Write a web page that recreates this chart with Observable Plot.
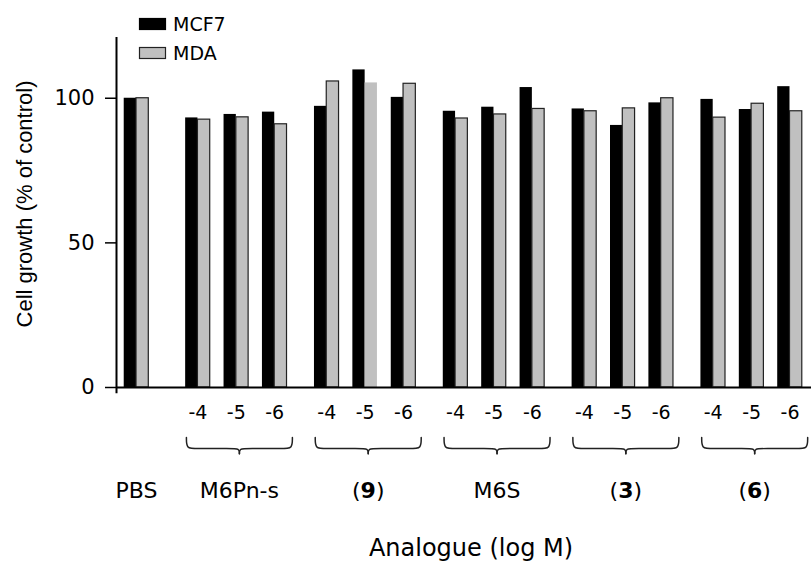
<!DOCTYPE html>
<html><head><meta charset="utf-8">
<script src="https://cdn.jsdelivr.net/npm/d3@7"></script>
<script src="https://cdn.jsdelivr.net/npm/@observablehq/plot@0.6"></script>
<style>body{margin:0;background:#fff}#chart{position:relative;width:811px;height:561px}</style>
</head><body><div id="chart"></div>
<script>
// ---- data ----
const groups = ["PBS", "M6Pn-s", "(9)", "M6S", "(3)", "(6)"];
const concs = ["-4", "-5", "-6"];
const series = ["MCF7", "MDA"];
const mcf7 = [[100], [93.2, 94.4, 95.2], [97.2, 109.8, 100.3], [95.5, 96.9, 103.7], [96.3, 90.6, 98.4], [99.6, 96.1, 104.0]];
const mda  = [[100], [92.6, 93.4, 91.0], [105.8, 105.3, 105.0], [93.0, 94.4, 96.3], [95.5, 96.5, 100.0], [93.3, 98.1, 95.5]];
const yTicks = [0, 50, 100];
const xLabel = "Analogue (log M)";
const yLabel = "Cell growth (% of control)";

// ---- layout (slot units) ----
const firstGroupOffset = 1.6, groupStep = 3.355, barW = 0.32;
const slotPos = (gi, k) => gi === 0 ? 0 : firstGroupOffset + (gi - 1) * groupStep + k;
const xDomain = [-0.521, 17.58];
const yDomain = [0, 121];

const rows = [];
groups.forEach((g, gi) => {
  mcf7[gi].forEach((v, k) => {
    rows.push({group: g, gi, k, conc: gi === 0 ? null : concs[k], pos: slotPos(gi, k), mcf7: v, mda: mda[gi][k]});
  });
});

const groupRows = groups.map((g, gi) => {
  if (gi === 0) return {group: g, center: 0};
  const L = slotPos(gi, 0) - 0.3, R = slotPos(gi, 2) + 0.46;
  return {group: g, L, R, center: (L + R) / 2};
});

// brace outlines built from each group's extent
const yTop = -17.3, yBar = -21.1, yTip = -22.9, c = 0.22;
const bracePts = [];
groupRows.slice(1).forEach(({group, L, R, center: M}) => {
  [[L, 1, "l"], [R, -1, "r"]].forEach(([E, s, side]) => {
    const pts = [[E, yTop], [E, yBar], [E + s * c, yBar], [M - s * c, yBar], [M, yBar], [M, yTip]];
    pts.forEach(([x, y]) => bracePts.push({id: group + side, x, y}));
  });
});

const plot = Plot.plot({
  width: 811,
  height: 561,
  marginLeft: 116,
  marginRight: 0,
  marginTop: 37,
  marginBottom: 174,
  style: {fontFamily: "DejaVu Sans", background: "white", color: "black", overflow: "visible"},
  x: {type: "linear", domain: xDomain, axis: null},
  y: {domain: yDomain, axis: null},
  marks: [
    Plot.rect(rows, {x1: d => d.pos - barW, x2: "pos", y1: 0, y2: "mcf7", fill: "black"}),
    Plot.rect(rows.filter(d => !(d.gi === 2 && d.k === 1)), {x1: "pos", x2: d => d.pos + barW, y1: 0, y2: "mda", fill: "#c0c0c0", stroke: "#222", strokeWidth: 1.2}),
    Plot.rect(rows.filter(d => d.gi === 2 && d.k === 1), {x1: "pos", x2: d => d.pos + barW, y1: 0, y2: "mda", fill: "#c0c0c0"}),
    Plot.ruleY([0], {strokeWidth: 2.2}),
    Plot.ruleX([xDomain[0]], {y1: -2.2, y2: yDomain[1], strokeWidth: 2}),
    Plot.axisY({ticks: yTicks, tickSize: 11, tickPadding: 11, fontSize: 21, label: null, strokeWidth: 1.5}),
    Plot.text([yLabel], {frameAnchor: "left", textAnchor: "middle", dx: -92, dy: -8.5, rotate: -90, fontSize: 22, fontFamily: "Liberation Sans"}),
    Plot.text(rows.filter(d => d.conc), {x: "pos", text: "conc", frameAnchor: "bottom", lineAnchor: "bottom", dy: 31, fontSize: 19}),
    Plot.line(bracePts, {x: "x", y: "y", z: "id", curve: "basis", stroke: "#222", strokeWidth: 1.5}),
    Plot.text(groupRows, {x: "center", text: "group", frameAnchor: "bottom", lineAnchor: "bottom", dy: 110, fontSize: 22}),
    Plot.text([xLabel], {frameAnchor: "bottom", lineAnchor: "bottom", dx: 7, dy: 168, fontSize: 24})
  ]
});

// bold compound numbers inside parentheses
d3.select(plot).selectAll("text").each(function() {
  const m = /^\((\d+)\)$/.exec(this.textContent);
  if (m) {
    const t = d3.select(this);
    t.text(null);
    t.append("tspan").text("(");
    t.append("tspan").attr("font-weight", "bold").text(m[1]);
    t.append("tspan").text(")");
  }
});

// legend (top-left, vertical)
const lg = d3.select(plot).append("g")
  .attr("font-family", "DejaVu Sans").attr("font-size", 19).attr("text-anchor", "start");
const swFill = ["black", "#c0c0c0"], swStroke = ["black", "#222"];
series.forEach((s, i) => {
  const y0 = 18.5 + i * 29;
  lg.append("rect").attr("x", 139.5).attr("y", y0).attr("width", 26).attr("height", 11)
    .attr("fill", swFill[i]).attr("stroke", swStroke[i]).attr("stroke-width", 1.2);
  lg.append("text").attr("x", 173).attr("y", y0 + 12.5).attr("text-anchor", "start").text(s);
});

document.getElementById("chart").appendChild(plot);
</script>
</body></html>
